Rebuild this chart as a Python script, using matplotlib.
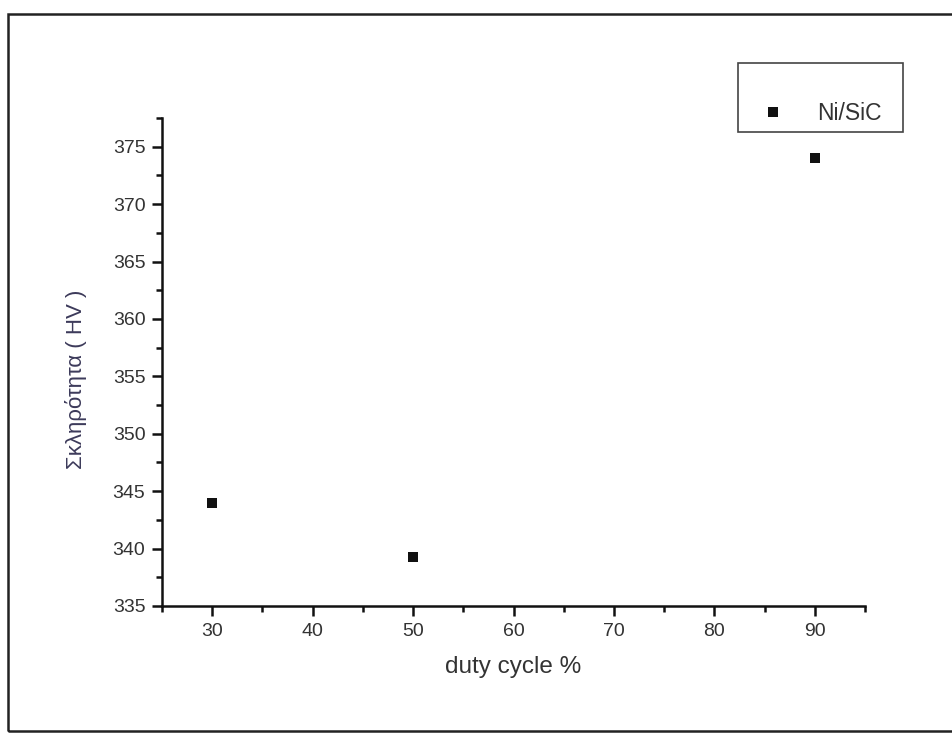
import matplotlib
matplotlib.use("Agg")
import matplotlib.pyplot as plt
from matplotlib.patches import Rectangle
from matplotlib.ticker import MultipleLocator

plt.rcParams['font.family'] = ['Liberation Sans', 'DejaVu Sans']

# hardness vs duty cycle
duty_cycle = [30, 50, 90]
hardness = [344.0, 339.3, 374.0]
series_name = "Ni/SiC"

fig = plt.figure(figsize=(9.52, 7.34), dpi=100)
ax = fig.add_axes([0.1702, 0.1744, 0.7384, 0.6648])

ax.plot(duty_cycle, hardness, linestyle="none", marker="s", markersize=7.5,
        markeredgewidth=0, color="#111111", label=series_name)

ax.set_xlim(25, 95)
ax.set_ylim(335, 377.5)
ax.xaxis.set_major_locator(MultipleLocator(10))
ax.xaxis.set_minor_locator(MultipleLocator(5))
ax.yaxis.set_major_locator(MultipleLocator(5))
ax.yaxis.set_minor_locator(MultipleLocator(2.5))

for s in ["top", "right"]:
    ax.spines[s].set_visible(False)
for s in ["left", "bottom"]:
    ax.spines[s].set_linewidth(1.8)
    ax.spines[s].set_color("#111111")

ax.tick_params(which="major", direction="out", length=7, width=1.8,
               labelsize=14, labelcolor="#333333", color="#111111", pad=5)
ax.tick_params(which="minor", direction="out", length=4, width=1.8, color="#111111")

ax.set_xlabel("duty cycle %", fontsize=17.5, color="#333333", labelpad=12)
ax.set_ylabel("Σκληρότητα ( HV )", fontsize=16, color="#3c3a5a")
ax.yaxis.set_label_coords(-0.107, 0.465)

# legend, frame drawn separately because the box is taller than its content
ax.legend(loc="center left", bbox_to_anchor=(764 / 952, 1 - 114 / 734),
          bbox_transform=fig.transFigure, frameon=False, borderpad=0,
          borderaxespad=0, handlelength=0.8, handletextpad=1.5,
          fontsize=16.5, labelcolor="#333333")
fig.patches.append(Rectangle((738 / 952, 1 - 132 / 734), 165 / 952, 69 / 734,
                             transform=fig.transFigure, fill=False,
                             edgecolor="#444444", linewidth=1.2))

# outer frame of the scanned page
fig.patches.append(Rectangle((8 / 952, 1 - 731 / 734), 1.0, (731 - 14) / 734,
                             transform=fig.transFigure, fill=False,
                             edgecolor="#222222", linewidth=1.8))

fig.savefig("out.png", dpi=100)
